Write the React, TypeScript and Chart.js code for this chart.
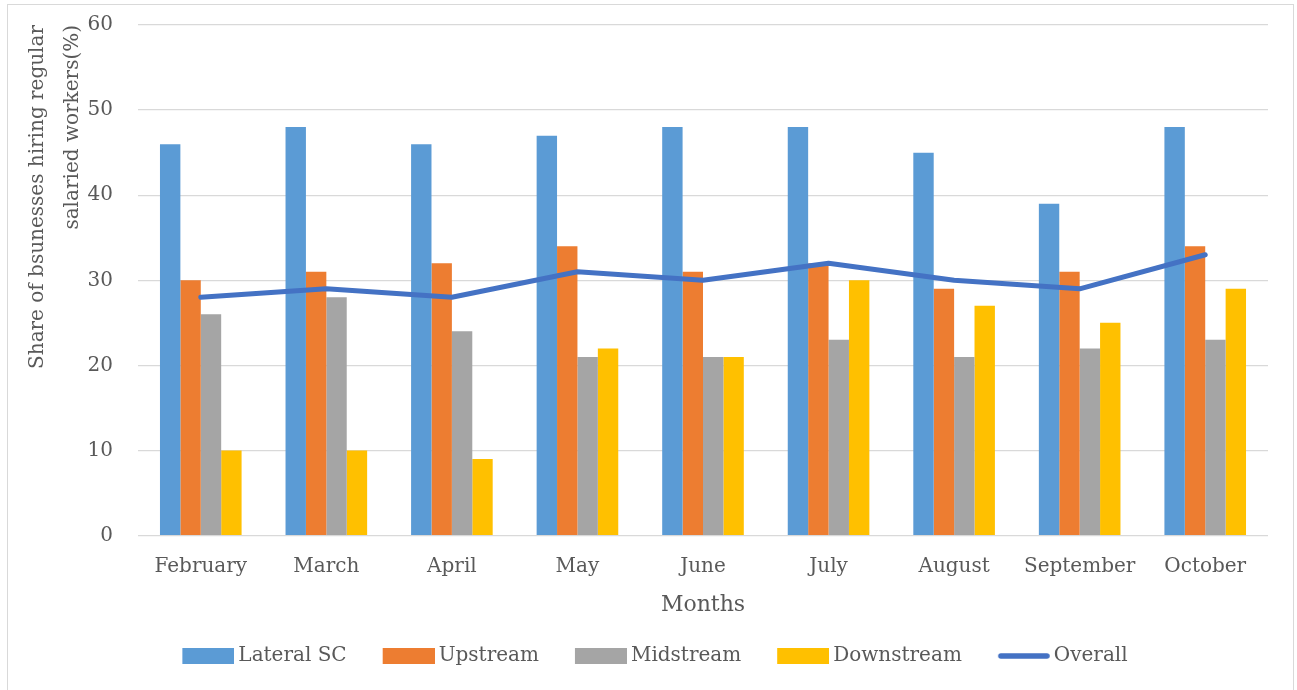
import React, { useEffect, useRef } from "react";
import { Chart, registerables } from "chart.js";
Chart.register(...registerables);

const months = ["February", "March", "April", "May", "June", "July", "August", "September", "October"];
const lateralSC = [46, 48, 46, 47, 48, 48, 45, 39, 48];
const upstream = [30, 31, 32, 34, 31, 32, 29, 31, 34];
const midstream = [26, 28, 24, 21, 21, 23, 21, 22, 23];
const downstream = [10, 10, 9, 22, 21, 30, 27, 25, 29];
const overall = [28, 29, 28, 31, 30, 32, 30, 29, 33];
const yTicks = [0, 10, 20, 30, 40, 50, 60];
const yTitle = ["Share of bsunesses hiring regular", "salaried workers(%)"];
const xTitle = "Months";

const TEXT = "#595959";
const FONT = "'DejaVu Serif'";

function swatch(color: string, isLine: boolean): HTMLCanvasElement {
  const c = document.createElement("canvas");
  c.width = 66;
  c.height = 16;
  const ctx = c.getContext("2d")!;
  if (isLine) {
    ctx.strokeStyle = color;
    ctx.lineWidth = 5.5;
    ctx.lineCap = "round";
    ctx.beginPath();
    ctx.moveTo(17, 8);
    ctx.lineTo(63, 8);
    ctx.stroke();
  } else {
    ctx.fillStyle = color;
    ctx.fillRect(14, 0, 52, 16);
  }
  return c;
}

export default function App() {
  const ref = useRef<HTMLCanvasElement>(null);
  useEffect(() => {
    const chart = new Chart(ref.current!, {
      type: "bar",
      data: {
        labels: months,
        datasets: [
          { label: "Lateral SC", data: lateralSC, backgroundColor: "#5B9BD5", order: 1 },
          { label: "Upstream", data: upstream, backgroundColor: "#ED7D31", order: 1 },
          { label: "Midstream", data: midstream, backgroundColor: "#A5A5A5", order: 1 },
          { label: "Downstream", data: downstream, backgroundColor: "#FFC000", order: 1 },
          {
            type: "line",
            label: "Overall",
            data: overall,
            borderColor: "#4472C4",
            backgroundColor: "#4472C4",
            borderWidth: 5,
            pointRadius: 0,
            borderCapStyle: "round",
            borderJoinStyle: "round",
            tension: 0,
            order: 0,
          } as any,
        ],
      },
      options: {
        animation: false,
        responsive: true,
        maintainAspectRatio: false,
        datasets: { bar: { categoryPercentage: 0.65, barPercentage: 1, borderWidth: 0 } },
        font: { family: FONT },
        layout: { padding: { top: 20, bottom: 17, left: 26, right: 25 } },
        plugins: {
          tooltip: { enabled: false },
          legend: {
            position: "bottom",
            labels: {
              sort: (a: any, b: any) => a.datasetIndex - b.datasetIndex,
              color: TEXT,
              font: { family: FONT, size: 20 },
              usePointStyle: true,
              pointStyleWidth: 54,
              boxHeight: 15,
              padding: 28,
              generateLabels: (c: any) => {
                const items = Chart.defaults.plugins.legend.labels.generateLabels(c);
                return items.map((it: any) => {
                  const ds: any = c.data.datasets[it.datasetIndex];
                  const isLine = ds.type === "line";
                  const col = isLine ? ds.borderColor : ds.backgroundColor;
                  return { ...it, pointStyle: swatch(col, isLine), lineWidth: 0, fontColor: TEXT };
                });
              },
            },
          },
        },
        scales: {
          x: {
            grid: { display: false, drawTicks: false },
            border: { display: false },
            ticks: { color: TEXT, font: { family: FONT, size: 20 }, padding: 19, maxRotation: 0 },
            title: { display: true, text: xTitle, color: TEXT, font: { family: FONT, size: 22 }, padding: { top: -6, bottom: 0 } },
          },
          y: {
            min: 0,
            max: 60,
            afterBuildTicks: (s: any) => {
              s.ticks = yTicks.map((v) => ({ value: v }));
            },
            afterFit: (s: any) => {
              s.width = 104;
            },
            ticks: { color: TEXT, font: { family: FONT, size: 20 }, padding: 0 },
            grid: { color: "#d9d9d9", lineWidth: 1.3, drawTicks: true, tickLength: 25, tickColor: "rgba(0,0,0,0)" },
            border: { display: false },
            title: {
              display: true,
              text: yTitle,
              align: "end",
              color: TEXT,
              font: { family: FONT, size: 20, lineHeight: 1.75 },
              padding: { top: -14, bottom: 0 },
            },
          },
        },
      },
    });
    return () => chart.destroy();
  }, []);

  return (
    <div
      style={{
        position: "absolute",
        left: 7,
        top: 4,
        width: 1287,
        height: 700,
        border: "1px solid #d9d9d9",
        boxSizing: "border-box",
        background: "#fff",
      }}
    >
      <div style={{ position: "relative", width: 1285, height: 688 }}>
        <canvas ref={ref} />
      </div>
    </div>
  );
}
